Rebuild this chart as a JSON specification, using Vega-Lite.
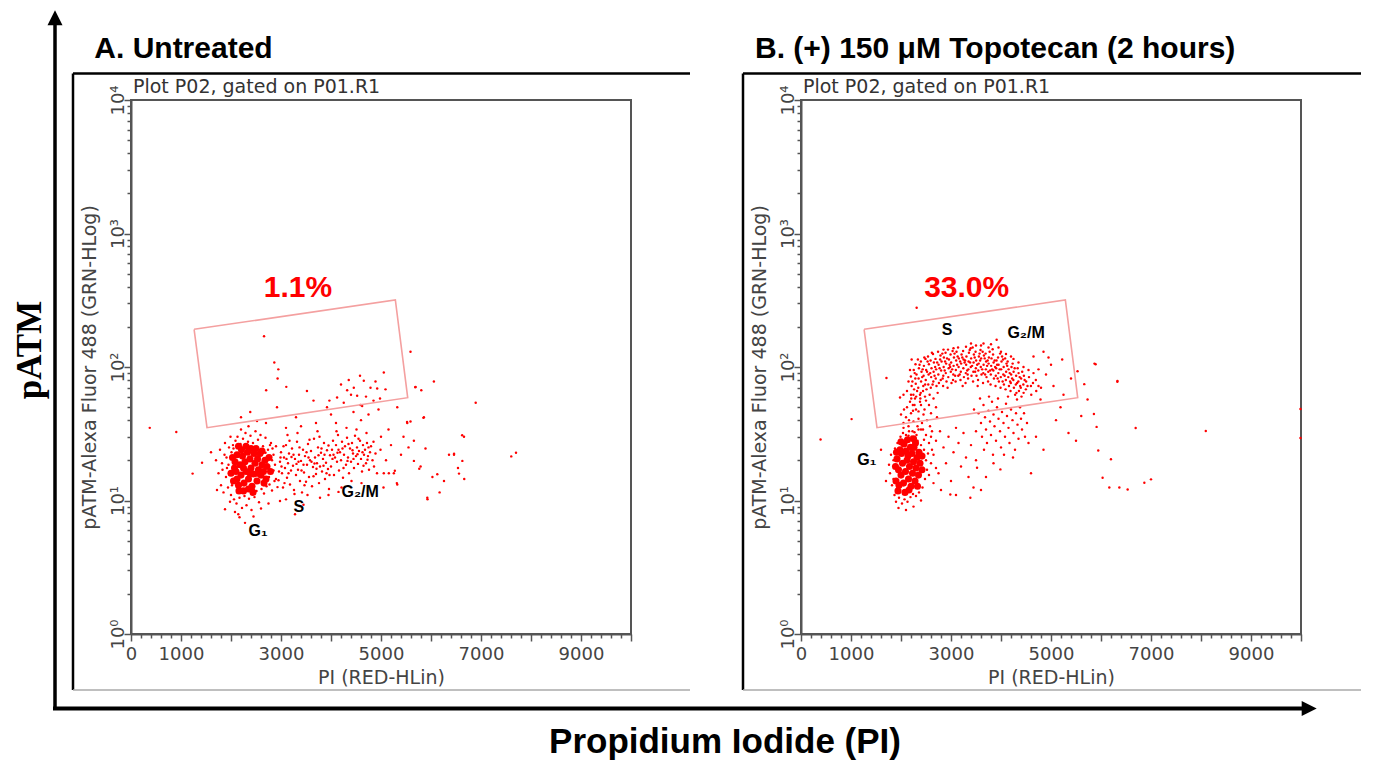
{
"$schema": "https://vega.github.io/schema/vega-lite/v6.json",
"background": "white",
"padding": {"left": 12, "top": 9, "right": 5, "bottom": 0},
"config": {"view": {"stroke": "#555", "strokeWidth": 2}, "font": "DejaVu Sans"},
"spacing": 170,
"bounds": "flush",
"datasets": {
"gate": [{"x":1262,"y":191.6,"o":1},{"x":5287,"y":317.6,"o":2},{"x":5534,"y":58.9,"o":3},{"x":1520,"y":35.1,"o":4},{"x":1262,"y":191.6,"o":5}],
"a_lab": [{"x":2350,"y":5.375,"t":"G₁"},{"x":3248,"y":8.2,"t":"S"},{"x":4210,"y":10.62,"t":"G₂/M"}],
"b_lab": [{"x":1126,"y":18.45,"t":"G₁"},{"x":2814,"y":173.7,"t":"S"},{"x":4128,"y":163.5,"t":"G₂/M"}],
"a_core": [{"x":2050,"y":14},{"x":2100,"y":16.5},{"x":2080,"y":19.5},{"x":2150,"y":13},{"x":2200,"y":15.5},{"x":2180,"y":18.5},{"x":2230,"y":21.5},{"x":2120,"y":22},{"x":2260,"y":13.5},{"x":2300,"y":16.5},{"x":2280,"y":19.5},{"x":2330,"y":23},{"x":2350,"y":14.5},{"x":2400,"y":17.5},{"x":2380,"y":20.5},{"x":2420,"y":12.8},{"x":2450,"y":15.8},{"x":2480,"y":19},{"x":2460,"y":22.5},{"x":2520,"y":14},{"x":2550,"y":17},{"x":2530,"y":20.5},{"x":2600,"y":15.5},{"x":2620,"y":18.5},{"x":2580,"y":22.5},{"x":2650,"y":16.5},{"x":2680,"y":20},{"x":2700,"y":14.5},{"x":2720,"y":18},{"x":2160,"y":11.8},{"x":2250,"y":11.8},{"x":2350,"y":12.2},{"x":2070,"y":17.5},{"x":2210,"y":24},{"x":2400,"y":24.5},{"x":2500,"y":24.5},{"x":2760,"y":21},{"x":2790,"y":16.5},{"x":2030,"y":21},{"x":2300,"y":25.5},{"x":2150,"y":25.5},{"x":2620,"y":23.5},{"x":2440,"y":11.5},{"x":2120,"y":14.5},{"x":2250,"y":17.5},{"x":2380,"y":16},{"x":2530,"y":16},{"x":2660,"y":13.5},{"x":2000,"y":16}],
"a_pts": [{"x":1750,"y":16},{"x":1800,"y":13},{"x":1820,"y":19},{"x":1850,"y":11.5},{"x":1870,"y":22},{"x":1900,"y":15},{"x":1920,"y":17.5},{"x":1940,"y":12.5},{"x":1960,"y":25},{"x":1980,"y":9.8},{"x":2000,"y":11},{"x":2010,"y":23},{"x":2040,"y":26},{"x":2060,"y":10.2},{"x":2090,"y":28},{"x":2110,"y":9.5},{"x":2130,"y":30},{"x":2170,"y":10.5},{"x":2190,"y":26.5},{"x":2220,"y":8.8},{"x":2240,"y":29},{"x":2270,"y":10.8},{"x":2290,"y":32},{"x":2310,"y":9.2},{"x":2340,"y":27.5},{"x":2360,"y":10.3},{"x":2390,"y":30.5},{"x":2410,"y":8.5},{"x":2440,"y":27},{"x":2470,"y":10.6},{"x":2490,"y":33},{"x":2510,"y":11.8},{"x":2540,"y":28.5},{"x":2560,"y":9.7},{"x":2590,"y":31},{"x":2610,"y":12.2},{"x":2640,"y":25.5},{"x":2660,"y":11.3},{"x":2690,"y":29.5},{"x":2710,"y":12.8},{"x":2740,"y":24},{"x":2770,"y":13.2},{"x":2800,"y":27},{"x":2820,"y":11.9},{"x":2850,"y":22},{"x":2870,"y":14},{"x":2900,"y":25.5},{"x":2930,"y":12.6},{"x":1700,"y":20},{"x":1780,"y":24},{"x":1880,"y":27},{"x":1990,"y":30},{"x":2170,"y":7.5},{"x":2080,"y":8.2},{"x":2200,"y":34},{"x":2350,"y":36},{"x":1720,"y":12},{"x":1830,"y":17},{"x":1910,"y":21},{"x":2020,"y":13},{"x":2760,"y":15},{"x":2880,"y":18.5},{"x":2960,"y":16.5},{"x":2990,"y":21},{"x":1950,"y":18.5},{"x":2050,"y":24.5},{"x":2690,"y":22.8},{"x":2820,"y":20},{"x":2850,"y":16.8},{"x":2900,"y":14.5},{"x":2780,"y":26},{"x":2830,"y":24.5},
{"x":1880,"y":8.6},{"x":2146,"y":7.9},{"x":2280,"y":6.8},{"x":3280,"y":7.9},{"x":2980,"y":9.9},{"x":3780,"y":10.5},{"x":2600,"y":8.7},{"x":3100,"y":10.2},{"x":2450,"y":7.6},{"x":3450,"y":9.3},{"x":3950,"y":11},{"x":4150,"y":11.6},{"x":2750,"y":9.5},
{"x":2950,"y":14.2},{"x":2980,"y":19.5},{"x":3000,"y":23},{"x":3020,"y":16},{"x":3040,"y":12.5},{"x":3060,"y":21},{"x":3080,"y":17.5},{"x":3100,"y":26},{"x":3120,"y":14.8},{"x":3140,"y":19},{"x":3160,"y":22.5},{"x":3180,"y":13.2},{"x":3200,"y":16.8},{"x":3220,"y":24.5},{"x":3240,"y":18.2},{"x":3260,"y":12},{"x":3280,"y":20.5},{"x":3300,"y":15.5},{"x":3320,"y":27.5},{"x":3340,"y":17},{"x":3360,"y":22},{"x":3380,"y":14},{"x":3400,"y":19.8},{"x":3420,"y":11.5},{"x":3440,"y":24},{"x":3460,"y":16.2},{"x":3480,"y":21.5},{"x":3500,"y":13.8},{"x":3520,"y":18.5},{"x":3540,"y":26.5},{"x":3560,"y":15},{"x":3580,"y":20},{"x":3600,"y":23.5},{"x":3620,"y":12.8},{"x":3640,"y":17.8},{"x":3660,"y":29},{"x":3680,"y":21},{"x":3700,"y":15.8},{"x":3720,"y":19},{"x":3740,"y":25},{"x":3760,"y":13.5},{"x":3780,"y":18},{"x":3800,"y":22.8},{"x":3820,"y":16.5},{"x":3840,"y":20.5},{"x":3860,"y":27},{"x":3880,"y":14.5},{"x":3900,"y":19.2},{"x":3920,"y":23.8},{"x":3940,"y":17.2},{"x":3960,"y":12.2},{"x":3980,"y":21.8},{"x":3010,"y":18},{"x":3110,"y":20.5},{"x":3210,"y":21.2},{"x":3310,"y":18.8},{"x":3410,"y":16.8},{"x":3510,"y":23},{"x":3610,"y":19.5},{"x":3710,"y":17.3},{"x":3810,"y":24.5},{"x":3910,"y":16},{"x":3050,"y":25.5},{"x":3150,"y":16},{"x":3250,"y":22},{"x":3350,"y":19.5},{"x":3450,"y":18.5},{"x":3550,"y":21},{"x":3650,"y":15.2},{"x":3750,"y":21.8},{"x":3850,"y":18.2},{"x":3950,"y":25.8},{"x":3070,"y":13.5},{"x":3170,"y":28},{"x":3270,"y":11.2},{"x":3370,"y":25},{"x":3470,"y":13},{"x":3570,"y":28.5},{"x":3670,"y":18.9},{"x":3770,"y":30},{"x":3870,"y":22},{"x":3970,"y":15.5},{"x":3130,"y":31},{"x":3330,"y":32},{"x":3530,"y":11},{"x":3730,"y":33},
{"x":4000,"y":18},{"x":4020,"y":24},{"x":4040,"y":28},{"x":4060,"y":15.5},{"x":4080,"y":21},{"x":4100,"y":26},{"x":4120,"y":19.5},{"x":4140,"y":31},{"x":4160,"y":16.8},{"x":4180,"y":23},{"x":4200,"y":20},{"x":4220,"y":27.5},{"x":4240,"y":14.8},{"x":4260,"y":22},{"x":4280,"y":25.5},{"x":4300,"y":18.5},{"x":4320,"y":29.5},{"x":4340,"y":21},{"x":4360,"y":16},{"x":4380,"y":24.5},{"x":4400,"y":19.5},{"x":4420,"y":27},{"x":4440,"y":22.5},{"x":4460,"y":17.5},{"x":4480,"y":30.5},{"x":4500,"y":21.5},{"x":4520,"y":25},{"x":4540,"y":18.8},{"x":4560,"y":23.5},{"x":4580,"y":28},{"x":4600,"y":20.5},{"x":4620,"y":16.5},{"x":4640,"y":26},{"x":4660,"y":22},{"x":4680,"y":24},{"x":4700,"y":19},{"x":4720,"y":27},{"x":4740,"y":21.5},{"x":4760,"y":17},{"x":4780,"y":23},{"x":4800,"y":25.5},{"x":4830,"y":20},{"x":4860,"y":18},{"x":4890,"y":22.5},{"x":4920,"y":16},{"x":4050,"y":22},{"x":4150,"y":24},{"x":4250,"y":17.5},{"x":4350,"y":26.5},{"x":4450,"y":20.5},{"x":4550,"y":29},{"x":4650,"y":18.2},{"x":4750,"y":25},{"x":4850,"y":27.5},{"x":4110,"y":33},{"x":4310,"y":35},{"x":4510,"y":34},{"x":4710,"y":32},{"x":4410,"y":14},{"x":4610,"y":13.5},{"x":4210,"y":12.5},{"x":4030,"y":20.5},{"x":4130,"y":22.8},{"x":4230,"y":24.5},{"x":4330,"y":19.8},{"x":4430,"y":23.8},{"x":4530,"y":22.2},{"x":4630,"y":23},{"x":4730,"y":20.2},
{"x":2661,"y":170},{"x":2866,"y":108},{"x":2946,"y":96},{"x":2932,"y":82},{"x":2703,"y":67},{"x":3106,"y":71},{"x":3519,"y":66},{"x":3968,"y":56},{"x":2920,"y":50},{"x":3650,"y":56},{"x":3920,"y":50},{"x":5056,"y":91},{"x":5590,"y":130},{"x":4355,"y":80},{"x":4656,"y":79},{"x":4890,"y":78},{"x":4323,"y":67},{"x":4456,"y":70},{"x":4790,"y":70},{"x":4924,"y":69},{"x":5090,"y":68},{"x":4523,"y":61},{"x":4623,"y":51},{"x":4255,"y":54},{"x":4590,"y":52},{"x":4122,"y":59},{"x":2385,"y":46},{"x":2520,"y":39.4},{"x":3300,"y":42},{"x":3700,"y":38},{"x":4000,"y":44},{"x":4450,"y":46},{"x":4750,"y":44},{"x":4850,"y":56},{"x":4400,"y":62},{"x":4700,"y":60},{"x":4200,"y":74},{"x":4580,"y":86},{"x":4980,"y":58},{"x":3400,"y":36},{"x":2700,"y":38},{"x":3100,"y":35},{"x":4100,"y":38},{"x":4600,"y":40},{"x":2200,"y":42},{"x":4950,"y":48},
{"x":5691,"y":71},{"x":5806,"y":67},{"x":6058,"y":78},{"x":6894,"y":54},{"x":5325,"y":50},{"x":5858,"y":42},{"x":5525,"y":38},{"x":6660,"y":30},{"x":6460,"y":22},{"x":6627,"y":19.8},{"x":6560,"y":15.9},{"x":6126,"y":15.7},{"x":5926,"y":10.5},{"x":6260,"y":14},{"x":5658,"y":19.8},{"x":5792,"y":18},{"x":5257,"y":16},{"x":5157,"y":16},{"x":5056,"y":16},{"x":5325,"y":13.2},{"x":4990,"y":24},{"x":5590,"y":39},{"x":5658,"y":28},{"x":7605,"y":21.4},{"x":7700,"y":22.8},{"x":6623,"y":30.8},{"x":6461,"y":22.4},{"x":6360,"y":22},{"x":6540,"y":17.5},{"x":6665,"y":14.5},{"x":6172,"y":11.5},{"x":5930,"y":10.2},{"x":6028,"y":15},{"x":5765,"y":17.3},{"x":5890,"y":24.5},{"x":5848,"y":41.6},{"x":5686,"y":70.5},{"x":5521,"y":38.7},{"x":5317,"y":13.5},{"x":5277,"y":16.7},{"x":5100,"y":20},{"x":5200,"y":26},{"x":5400,"y":22},{"x":5000,"y":30},{"x":5150,"y":34},{"x":5450,"y":30},{"x":5050,"y":12.5},{"x":5550,"y":25},
{"x":375,"y":35},{"x":906,"y":32.6},{"x":1232,"y":15.9},{"x":1421,"y":19.2},{"x":1600,"y":23}],
"b_core": [{"x":1900,"y":14},{"x":1950,"y":17},{"x":1920,"y":20.5},{"x":1980,"y":24},{"x":1960,"y":13},{"x":2000,"y":15.5},{"x":2030,"y":19},{"x":2010,"y":22.5},{"x":2060,"y":26.5},{"x":2050,"y":13.5},{"x":2090,"y":16.5},{"x":2120,"y":20},{"x":2100,"y":23.5},{"x":2150,"y":14.5},{"x":2170,"y":18},{"x":2140,"y":21.5},{"x":2190,"y":25},{"x":2200,"y":12.8},{"x":2230,"y":16},{"x":2250,"y":19.5},{"x":2220,"y":22.5},{"x":2280,"y":14},{"x":2300,"y":17.5},{"x":2320,"y":21},{"x":2290,"y":27},{"x":2350,"y":15.5},{"x":2380,"y":19},{"x":2360,"y":23},{"x":2420,"y":17},{"x":1940,"y":11.8},{"x":2080,"y":11.5},{"x":2160,"y":12},{"x":1890,"y":18},{"x":2420,"y":21.5},{"x":2130,"y":28.5},{"x":2250,"y":29},{"x":2000,"y":27.5},{"x":2330,"y":12.8},{"x":1910,"y":23},{"x":2260,"y":25}],
"b_pts": [{"x":1780,"y":16},{"x":1820,"y":13},{"x":1850,"y":20},{"x":1870,"y":11},{"x":1880,"y":24.5},{"x":1900,"y":9.8},{"x":1930,"y":27},{"x":1960,"y":10.5},{"x":1990,"y":30},{"x":2020,"y":9.5},{"x":2040,"y":32},{"x":2070,"y":10.2},{"x":2100,"y":31},{"x":2130,"y":9.8},{"x":2160,"y":33},{"x":2190,"y":10.6},{"x":2210,"y":30},{"x":2240,"y":11.2},{"x":2270,"y":32.5},{"x":2300,"y":10.8},{"x":2330,"y":28},{"x":2360,"y":11.5},{"x":2400,"y":26},{"x":2430,"y":12.5},{"x":2460,"y":24},{"x":2480,"y":14.5},{"x":2500,"y":20},{"x":2520,"y":17},{"x":2540,"y":22.5},{"x":2560,"y":15.5},{"x":2600,"y":19},{"x":2620,"y":24},{"x":2650,"y":13.5},{"x":2700,"y":17.5},{"x":1800,"y":22},{"x":1760,"y":18.5},{"x":1950,"y":8.8},{"x":2100,"y":8.5},{"x":2250,"y":9},{"x":2400,"y":10},{"x":2050,"y":35},{"x":2350,"y":34},{"x":1850,"y":14.5},{"x":2460,"y":28.5},{"x":2560,"y":27},
{"x":2050,"y":38},{"x":2100,"y":42},{"x":2150,"y":36},{"x":2200,"y":45},{"x":2250,"y":39},{"x":2300,"y":48},{"x":2350,"y":41},{"x":2400,"y":52},{"x":2450,"y":44},{"x":2500,"y":56},{"x":2120,"y":50},{"x":2180,"y":55},{"x":2230,"y":33},{"x":2280,"y":58},{"x":2330,"y":36},{"x":2380,"y":62},{"x":2420,"y":38},{"x":2470,"y":48},{"x":2520,"y":40},{"x":2560,"y":52},{"x":2600,"y":45},{"x":2650,"y":58},{"x":2700,"y":50},{"x":2150,"y":30.5},{"x":2310,"y":31},{"x":2440,"y":34},{"x":2580,"y":36},{"x":2000,"y":44},{"x":2060,"y":48},{"x":2200,"y":62},{"x":2270,"y":52},{"x":2350,"y":46.5},{"x":2400,"y":34},{"x":2500,"y":31},{"x":2620,"y":33},{"x":2720,"y":42},{"x":2160,"y":40},{"x":2240,"y":47},{"x":2380,"y":55},{"x":2480,"y":60},
{"x":2205,"y":58},{"x":2212,"y":72},{"x":2198,"y":85},{"x":2248,"y":62},{"x":2255,"y":95},{"x":2262,"y":68},{"x":2295,"y":75},{"x":2303,"y":60},{"x":2310,"y":88},{"x":2290,"y":105},{"x":2345,"y":70},{"x":2352,"y":82},{"x":2358,"y":98},{"x":2395,"y":64},{"x":2402,"y":78},{"x":2410,"y":92},{"x":2398,"y":110},{"x":2446,"y":72},{"x":2452,"y":86},{"x":2458,"y":102},{"x":2441,"y":66},{"x":2495,"y":80},{"x":2503,"y":95},{"x":2510,"y":68},{"x":2490,"y":115},{"x":2545,"y":74},{"x":2552,"y":88},{"x":2558,"y":105},{"x":2540,"y":120},{"x":2596,"y":70},{"x":2603,"y":84},{"x":2610,"y":98},{"x":2592,"y":112},{"x":2646,"y":78},{"x":2652,"y":92},{"x":2658,"y":108},{"x":2640,"y":125},{"x":2695,"y":82},{"x":2703,"y":96},{"x":2710,"y":72},{"x":2690,"y":115},{"x":2747,"y":88},{"x":2752,"y":104},{"x":2758,"y":76},{"x":2741,"y":130},{"x":2795,"y":80},{"x":2803,"y":94},{"x":2811,"y":110},{"x":2790,"y":122},{"x":2846,"y":86},{"x":2853,"y":100},{"x":2858,"y":118},{"x":2842,"y":72},{"x":2896,"y":90},{"x":2903,"y":106},{"x":2910,"y":78},{"x":2891,"y":128},{"x":2946,"y":84},{"x":2953,"y":98},{"x":2959,"y":114},{"x":2940,"y":135},{"x":2996,"y":92},{"x":3003,"y":108},{"x":3010,"y":76},{"x":2991,"y":124},{"x":3046,"y":88},{"x":3052,"y":102},{"x":3059,"y":118},{"x":3041,"y":80},{"x":3097,"y":95},{"x":3103,"y":112},{"x":3110,"y":130},{"x":3092,"y":78},{"x":3146,"y":86},{"x":3152,"y":100},{"x":3158,"y":116},{"x":3141,"y":140},{"x":3196,"y":92},{"x":3203,"y":106},{"x":3211,"y":124},{"x":3190,"y":80},{"x":3247,"y":98},{"x":3252,"y":114},{"x":3258,"y":84},{"x":3242,"y":132},{"x":3296,"y":90},{"x":3303,"y":104},{"x":3309,"y":120},{"x":3291,"y":76},{"x":3347,"y":96},{"x":3352,"y":110},{"x":3359,"y":128},{"x":3341,"y":82},{"x":3396,"y":100},{"x":3403,"y":116},{"x":3410,"y":86},{"x":3392,"y":138},{"x":3447,"y":92},{"x":3452,"y":108},{"x":3458,"y":124},{"x":3441,"y":78},{"x":3497,"y":98},{"x":3503,"y":112},{"x":3510,"y":86},{"x":3491,"y":130},{"x":3546,"y":94},{"x":3553,"y":106},{"x":3558,"y":120},{"x":3541,"y":80},{"x":3596,"y":100},{"x":3603,"y":116},{"x":3610,"y":88},{"x":3590,"y":134},{"x":3646,"y":90},{"x":3652,"y":104},{"x":3659,"y":122},{"x":3641,"y":76},{"x":3697,"y":96},{"x":3703,"y":110},{"x":3710,"y":84},{"x":3692,"y":126},{"x":3746,"y":92},{"x":3752,"y":106},{"x":3758,"y":118},{"x":3741,"y":78},{"x":3796,"y":88},{"x":3803,"y":102},{"x":3810,"y":116},{"x":3791,"y":74},{"x":3847,"y":94},{"x":3852,"y":108},{"x":3859,"y":82},{"x":3841,"y":124},{"x":3896,"y":86},{"x":3903,"y":98},{"x":3910,"y":112},{"x":3891,"y":72},{"x":3947,"y":90},{"x":3952,"y":104},{"x":3958,"y":78},{"x":3941,"y":118},{"x":3996,"y":84},{"x":4003,"y":96},{"x":4010,"y":110},{"x":3991,"y":70},{"x":4046,"y":88},{"x":4053,"y":100},{"x":4058,"y":74},{"x":4041,"y":114},{"x":4097,"y":80},{"x":4103,"y":92},{"x":4110,"y":106},{"x":4091,"y":68},{"x":4146,"y":84},{"x":4152,"y":96},{"x":4159,"y":72},{"x":4196,"y":76},{"x":4203,"y":88},{"x":4210,"y":100},{"x":4191,"y":66},{"x":4247,"y":80},{"x":4252,"y":92},{"x":4258,"y":70},{"x":4296,"y":74},{"x":4303,"y":86},{"x":4309,"y":64},{"x":4347,"y":78},{"x":4352,"y":90},{"x":4359,"y":66},{"x":4396,"y":70},{"x":4403,"y":82},{"x":4410,"y":60},{"x":4447,"y":74},{"x":4452,"y":64},{"x":4458,"y":86},{"x":4497,"y":68},{"x":4503,"y":78},{"x":4598,"y":72},{"x":4605,"y":62},{"x":4697,"y":80},{"x":4705,"y":66},{"x":4800,"y":70},
{"x":2228,"y":78},{"x":2274,"y":90},{"x":2322,"y":66},{"x":2371,"y":104},{"x":2424,"y":84},{"x":2467,"y":118},{"x":2521,"y":92},{"x":2573,"y":62},{"x":2618,"y":128},{"x":2671,"y":86},{"x":2724,"y":108},{"x":2772,"y":98},{"x":2827,"y":126},{"x":2874,"y":94},{"x":2921,"y":116},{"x":2972,"y":104},{"x":3024,"y":96},{"x":3071,"y":126},{"x":3123,"y":104},{"x":3174,"y":88},{"x":3226,"y":118},{"x":3272,"y":108},{"x":3324,"y":94},{"x":3374,"y":134},{"x":3422,"y":102},{"x":3474,"y":118},{"x":3523,"y":104},{"x":3572,"y":126},{"x":3624,"y":96},{"x":3674,"y":116},{"x":3722,"y":102},{"x":3773,"y":130},{"x":3824,"y":96},{"x":3873,"y":112},{"x":3922,"y":104},{"x":3974,"y":96},{"x":4022,"y":120},{"x":4073,"y":86},{"x":4124,"y":102},{"x":4174,"y":90},{"x":4223,"y":82},{"x":4274,"y":98},{"x":4322,"y":76},{"x":4374,"y":84},{"x":4424,"y":92},{"x":4473,"y":80},{"x":4530,"y":72},{"x":4560,"y":84},{"x":4640,"y":76},{"x":4750,"y":72},{"x":2237,"y":52},{"x":2286,"y":82},{"x":2338,"y":114},{"x":2387,"y":58},{"x":2434,"y":96},{"x":2483,"y":74},{"x":2532,"y":110},{"x":2585,"y":90},{"x":2632,"y":74},{"x":2683,"y":100},{"x":2733,"y":64},{"x":2783,"y":114},{"x":2834,"y":82},{"x":2882,"y":110},{"x":2932,"y":70},{"x":2983,"y":100},{"x":3032,"y":132},{"x":3083,"y":86},{"x":3133,"y":120},{"x":3183,"y":110},{"x":3233,"y":72},{"x":3283,"y":112},{"x":3333,"y":88},{"x":3383,"y":108},{"x":3433,"y":140},{"x":3483,"y":92},{"x":3533,"y":72},{"x":3583,"y":112},{"x":3633,"y":130},{"x":3683,"y":88},{"x":3733,"y":112},{"x":3783,"y":94},{"x":3833,"y":136},{"x":3883,"y":100},{"x":3933,"y":82},{"x":3983,"y":126},{"x":4033,"y":78},{"x":4083,"y":116},{"x":4133,"y":110},{"x":4183,"y":78},{"x":4233,"y":106},{"x":4283,"y":62},{"x":4333,"y":98},{"x":4383,"y":72},
{"x":3500,"y":145},{"x":3650,"y":150},{"x":3800,"y":148},{"x":3913,"y":160},{"x":3750,"y":140},{"x":3300,"y":142},{"x":3050,"y":138},{"x":2850,"y":135},{"x":4000,"y":130},{"x":4100,"y":125},{"x":4250,"y":115},{"x":4350,"y":108},{"x":4450,"y":100},{"x":4550,"y":95},{"x":4650,"y":90},{"x":3400,"y":150},{"x":3600,"y":145},{"x":3950,"y":140},{"x":4200,"y":120},{"x":2213,"y":114},{"x":2180,"y":95},{"x":2150,"y":78},{"x":2120,"y":66},{"x":1980,"y":59},{"x":2050,"y":62},
{"x":3550,"y":45},{"x":3600,"y":38},{"x":3620,"y":30},{"x":3650,"y":52},{"x":3680,"y":42},{"x":3700,"y":34},{"x":3720,"y":27},{"x":3750,"y":47},{"x":3780,"y":39},{"x":3800,"y":31},{"x":3820,"y":55},{"x":3850,"y":44},{"x":3870,"y":36},{"x":3900,"y":28},{"x":3920,"y":50},{"x":3950,"y":41},{"x":3980,"y":33},{"x":4000,"y":25},{"x":4020,"y":46},{"x":4050,"y":38},{"x":4080,"y":30},{"x":4100,"y":53},{"x":4120,"y":43},{"x":4150,"y":35},{"x":4170,"y":27},{"x":4200,"y":48},{"x":4230,"y":40},{"x":4250,"y":32},{"x":4280,"y":24},{"x":4300,"y":45},{"x":4330,"y":37},{"x":4350,"y":29},{"x":4380,"y":50},{"x":4400,"y":41},{"x":4420,"y":34},{"x":3580,"y":58},{"x":3760,"y":60},{"x":3940,"y":58},{"x":4140,"y":60},{"x":4320,"y":57},{"x":3660,"y":24},{"x":3840,"y":22},{"x":4060,"y":22},{"x":4240,"y":21},{"x":4460,"y":45},{"x":4480,"y":30},{"x":3500,"y":33},{"x":3460,"y":48},{"x":4520,"y":38},{"x":4550,"y":27},
{"x":2650,"y":22},{"x":2700,"y":28},{"x":2750,"y":16},{"x":2800,"y":12},{"x":2850,"y":25},{"x":2900,"y":19},{"x":2950,"y":30},{"x":3000,"y":14},{"x":3050,"y":23},{"x":3100,"y":11},{"x":3150,"y":27},{"x":3200,"y":18},{"x":3250,"y":32},{"x":3300,"y":21},{"x":3350,"y":15},{"x":3400,"y":26},{"x":3450,"y":12.5},{"x":3500,"y":20},{"x":2986,"y":11.1},{"x":3387,"y":10.5},{"x":3988,"y":17.1},{"x":3521,"y":17.6},{"x":3700,"y":15},{"x":3850,"y":19},{"x":3100,"y":35},{"x":2780,"y":33},{"x":2600,"y":30},{"x":3600,"y":12},
{"x":5224,"y":114},{"x":5892,"y":105},{"x":6327,"y":77.5},{"x":5665,"y":74.4},{"x":5531,"y":93},{"x":5731,"y":57},{"x":5605,"y":43},{"x":5858,"y":44.4},{"x":6199,"y":20.4},{"x":6032,"y":14.8},{"x":6166,"y":12.5},{"x":6367,"y":12.5},{"x":6533,"y":12.1},{"x":6867,"y":13.6},{"x":7000,"y":14.4},{"x":5945,"y":23.7},{"x":5912,"y":35.6},{"x":5190,"y":50},{"x":4790,"y":57},{"x":9990,"y":48.5},{"x":9990,"y":29.4},{"x":6693,"y":34.9},{"x":8096,"y":33.2},{"x":6329,"y":78.5},{"x":5870,"y":106},{"x":4900,"y":88},{"x":5050,"y":72},{"x":4950,"y":118},{"x":5100,"y":40},{"x":4700,"y":30},{"x":4850,"y":24},{"x":5350,"y":32},{"x":5250,"y":62},{"x":4600,"y":16},{"x":5400,"y":82},{"x":5500,"y":28},{"x":5000,"y":104},{"x":4750,"y":96},{"x":4650,"y":120},{"x":4850,"y":130},
{"x":391,"y":28.6},{"x":1012,"y":40.7},{"x":1709,"y":82.8},{"x":2313,"y":278},{"x":1600,"y":24},{"x":1700,"y":14}]
},
"hconcat": [
{
"width": 500, "height": 534,
"resolve": {"axis": {"x": "independent", "y": "independent"}},
"layer": [
{"data": {"name": "a_pts"}, "mark": {"type": "circle", "size": 6, "color": "#ff0000", "opacity": 1},
 "encoding": {
  "x": {"field": "x", "type": "quantitative", "scale": {"domain": [0, 10000], "nice": false, "zero": false},
   "axis": {"orient": "bottom", "title": "PI (RED-HLin)", "values": [0,1000,2000,3000,4000,5000,6000,7000,8000,9000,10000],
    "tickSize": 7,
    "labelExpr": "(datum.value === 0 || datum.value % 2000 === 1000) ? format(datum.value, 'd') : ''",
    "labelOverlap": false, "labelFlush": false, "labelFont": "DejaVu Sans", "labelFontSize": 18, "labelColor": "#444", "labelPadding": 4,
    "tickColor": "#555", "tickWidth": 1.5, "domainColor": "#555", "domainWidth": 2, "grid": false,
    "titleFont": "DejaVu Sans", "titleFontSize": 19, "titleFontWeight": "normal", "titleColor": "#444", "titleY": 49.5, "titleBaseline": "alphabetic"}},
  "y": {"field": "y", "type": "quantitative", "scale": {"type": "log", "domain": [1, 10000], "nice": false},
   "axis": {"orient": "left", "title": "pATM-Alexa Fluor 488 (GRN-HLog)", "values": [1,10,100,1000,10000],
    "tickSize": 7,
    "labelExpr": "'10' + ['⁰','¹','²','³','⁴'][round(log(datum.value)/LN10)]",
    "labelAngle": 270, "labelAlign": "center", "labelBaseline": "alphabetic", "labelOverlap": false, "labelFlush": false,
    "labelFont": "DejaVu Sans", "labelFontSize": 18, "labelColor": "#444", "labelPadding": 1,
    "tickColor": "#555", "tickWidth": 1.5, "domainColor": "#555", "domainWidth": 2, "grid": false,
    "titleFont": "DejaVu Sans", "titleFontSize": 19, "titleFontWeight": "normal", "titleColor": "#444", "titleAngle": 270, "titleX": -36, "titleY": 267, "titleAlign": "center", "titleBaseline": "alphabetic"}}
 }},
{"data": {"name": "a_core"}, "mark": {"type": "circle", "size": 50, "color": "#ff0000", "opacity": 1},
 "encoding": {"x": {"field": "x", "type": "quantitative", "scale": {"domain": [0, 10000], "nice": false, "zero": false},
   "axis": {"orient": "bottom", "title": null, "labels": false, "domain": false, "grid": false, "tickSize": 4, "tickColor": "#555", "tickWidth": 1.5,
    "values": [200,400,600,800,1200,1400,1600,1800,2200,2400,2600,2800,3200,3400,3600,3800,4200,4400,4600,4800,5200,5400,5600,5800,6200,6400,6600,6800,7200,7400,7600,7800,8200,8400,8600,8800,9200,9400,9600,9800]}},
  "y": {"field": "y", "type": "quantitative", "scale": {"type": "log", "domain": [1, 10000], "nice": false},
   "axis": {"orient": "left", "title": null, "labels": false, "domain": false, "grid": false, "tickSize": 4, "tickColor": "#555", "tickWidth": 1.5,
    "values": [2,3,4,5,6,7,8,9,20,30,40,50,60,70,80,90,200,300,400,500,600,700,800,900,2000,3000,4000,5000,6000,7000,8000,9000]}}}},
{"data": {"name": "gate"}, "mark": {"type": "line", "color": "#f4a0a0", "strokeWidth": 1.6},
 "encoding": {"x": {"field": "x", "type": "quantitative", "scale": {"domain": [0, 10000], "nice": false, "zero": false}, "axis": null},
  "y": {"field": "y", "type": "quantitative", "scale": {"type": "log", "domain": [1, 10000], "nice": false}, "axis": null},
  "order": {"field": "o", "type": "quantitative"}}},
{"data": {"name": "a_lab"}, "mark": {"type": "text", "align": "left", "baseline": "alphabetic", "font": "Liberation Sans", "fontWeight": "bold", "fontSize": 16, "color": "#000"},
 "encoding": {"x": {"field": "x", "type": "quantitative", "scale": {"domain": [0, 10000], "nice": false, "zero": false}, "axis": null},
  "y": {"field": "y", "type": "quantitative", "scale": {"type": "log", "domain": [1, 10000], "nice": false}, "axis": null},
  "text": {"field": "t"}}},
{"data": {"values": [{}]}, "mark": {"type": "text", "text": "Plot P02, gated on P01.R1", "align": "left", "baseline": "alphabetic", "font": "DejaVu Sans", "fontSize": 19, "color": "#333", "clip": false},
 "encoding": {"x": {"datum": 40, "type": "quantitative", "scale": {"domain": [0, 10000], "nice": false, "zero": false}, "axis": null},
  "y": {"datum": 11225, "type": "quantitative", "scale": {"type": "log", "domain": [1, 10000], "nice": false}, "axis": null}}},
{"data": {"values": [{}]}, "mark": {"type": "text", "text": "1.1%", "align": "center", "baseline": "alphabetic", "font": "Liberation Sans", "fontWeight": "bold", "fontSize": 30, "color": "#ff0000", "clip": false},
 "encoding": {"x": {"datum": 3340, "type": "quantitative", "scale": {"domain": [0, 10000], "nice": false, "zero": false}, "axis": null},
  "y": {"datum": 334, "type": "quantitative", "scale": {"type": "log", "domain": [1, 10000], "nice": false}, "axis": null}}},
{"data": {"values": [{}]}, "mark": {"type": "text", "text": "A. Untreated", "align": "left", "baseline": "alphabetic", "font": "Liberation Sans", "fontWeight": "bold", "fontSize": 30, "color": "#000", "clip": false},
 "encoding": {"x": {"datum": -734, "type": "quantitative", "scale": {"domain": [0, 10000], "nice": false, "zero": false}, "axis": null},
  "y": {"datum": 20740, "type": "quantitative", "scale": {"type": "log", "domain": [1, 10000], "nice": false}, "axis": null}}},
{"data": {"values": [{}]}, "mark": {"type": "rule", "color": "#000", "strokeWidth": 2.5, "clip": false},
 "encoding": {"x": {"datum": -1160, "type": "quantitative", "scale": {"domain": [0, 10000], "nice": false, "zero": false}, "axis": null}, "x2": {"datum": 11180},
  "y": {"datum": 15795, "type": "quantitative", "scale": {"type": "log", "domain": [1, 10000], "nice": false}, "axis": null}}},
{"data": {"values": [{}]}, "mark": {"type": "rule", "color": "#000", "strokeWidth": 2.5, "clip": false},
 "encoding": {"x": {"datum": -1160, "type": "quantitative", "scale": {"domain": [0, 10000], "nice": false, "zero": false}, "axis": null},
  "y": {"datum": 15795, "type": "quantitative", "scale": {"type": "log", "domain": [1, 10000], "nice": false}, "axis": null}, "y2": {"datum": 0.3806}}},
{"data": {"values": [{}]}, "mark": {"type": "rule", "color": "#aaa", "strokeWidth": 1.5, "clip": false},
 "encoding": {"x": {"datum": -1160, "type": "quantitative", "scale": {"domain": [0, 10000], "nice": false, "zero": false}, "axis": null}, "x2": {"datum": 11180},
  "y": {"datum": 0.3806, "type": "quantitative", "scale": {"type": "log", "domain": [1, 10000], "nice": false}, "axis": null}}},
{"data": {"values": [{}]}, "mark": {"type": "rule", "color": "#000", "strokeWidth": 3.5, "clip": false},
 "encoding": {"x": {"datum": -1520, "type": "quantitative", "scale": {"domain": [0, 10000], "nice": false, "zero": false}, "axis": null},
  "y": {"datum": 0.2767, "type": "quantitative", "scale": {"type": "log", "domain": [1, 10000], "nice": false}, "axis": null}, "y2": {"datum": 36470}}},
{"data": {"values": [{}]}, "mark": {"type": "point", "shape": "M0,-1L1,1L-1,1Z", "size": 225, "filled": true, "color": "#000", "opacity": 1, "strokeWidth": 0, "clip": false},
 "encoding": {"x": {"datum": -1520, "type": "quantitative", "scale": {"domain": [0, 10000], "nice": false, "zero": false}, "axis": null},
  "y": {"datum": 41300, "type": "quantitative", "scale": {"type": "log", "domain": [1, 10000], "nice": false}, "axis": null}}},
{"data": {"values": [{}]}, "mark": {"type": "rule", "color": "#000", "strokeWidth": 4, "clip": false},
 "encoding": {"x": {"datum": -1560, "type": "quantitative", "scale": {"domain": [0, 10000], "nice": false, "zero": false}, "axis": null}, "x2": {"datum": 23440},
  "y": {"datum": 0.2767, "type": "quantitative", "scale": {"type": "log", "domain": [1, 10000], "nice": false}, "axis": null}}},
{"data": {"values": [{}]}, "mark": {"type": "point", "shape": "M1,0L-1,-1L-1,1Z", "size": 225, "filled": true, "color": "#000", "opacity": 1, "strokeWidth": 0, "clip": false},
 "encoding": {"x": {"datum": 23564, "type": "quantitative", "scale": {"domain": [0, 10000], "nice": false, "zero": false}, "axis": null},
  "y": {"datum": 0.2767, "type": "quantitative", "scale": {"type": "log", "domain": [1, 10000], "nice": false}, "axis": null}}},
{"data": {"values": [{}]}, "mark": {"type": "text", "text": "pATM", "angle": 270, "align": "center", "baseline": "middle", "font": "Liberation Serif", "fontWeight": "bold", "fontSize": 35, "color": "#000", "clip": false},
 "encoding": {"x": {"datum": -2020, "type": "quantitative", "scale": {"domain": [0, 10000], "nice": false, "zero": false}, "axis": null},
  "y": {"datum": 134, "type": "quantitative", "scale": {"type": "log", "domain": [1, 10000], "nice": false}, "axis": null}}},
{"data": {"values": [{}]}, "mark": {"type": "text", "text": "Propidium Iodide (PI)", "align": "center", "baseline": "alphabetic", "font": "Liberation Sans", "fontWeight": "bold", "fontSize": 35, "color": "#000", "clip": false},
 "encoding": {"x": {"datum": 11880, "type": "quantitative", "scale": {"domain": [0, 10000], "nice": false, "zero": false}, "axis": null},
  "y": {"datum": 0.1284, "type": "quantitative", "scale": {"type": "log", "domain": [1, 10000], "nice": false}, "axis": null}}}
]
},
{
"width": 500, "height": 534,
"resolve": {"axis": {"x": "independent", "y": "independent"}},
"layer": [
{"data": {"name": "b_pts"}, "mark": {"type": "circle", "size": 6, "color": "#ff0000", "opacity": 1},
 "encoding": {
  "x": {"field": "x", "type": "quantitative", "scale": {"domain": [0, 10000], "nice": false, "zero": false},
   "axis": {"orient": "bottom", "title": "PI (RED-HLin)", "values": [0,1000,2000,3000,4000,5000,6000,7000,8000,9000,10000],
    "tickSize": 7,
    "labelExpr": "(datum.value === 0 || datum.value % 2000 === 1000) ? format(datum.value, 'd') : ''",
    "labelOverlap": false, "labelFlush": false, "labelFont": "DejaVu Sans", "labelFontSize": 18, "labelColor": "#444", "labelPadding": 4,
    "tickColor": "#555", "tickWidth": 1.5, "domainColor": "#555", "domainWidth": 2, "grid": false,
    "titleFont": "DejaVu Sans", "titleFontSize": 19, "titleFontWeight": "normal", "titleColor": "#444", "titleY": 49.5, "titleBaseline": "alphabetic"}},
  "y": {"field": "y", "type": "quantitative", "scale": {"type": "log", "domain": [1, 10000], "nice": false},
   "axis": {"orient": "left", "title": "pATM-Alexa Fluor 488 (GRN-HLog)", "values": [1,10,100,1000,10000],
    "tickSize": 7,
    "labelExpr": "'10' + ['⁰','¹','²','³','⁴'][round(log(datum.value)/LN10)]",
    "labelAngle": 270, "labelAlign": "center", "labelBaseline": "alphabetic", "labelOverlap": false, "labelFlush": false,
    "labelFont": "DejaVu Sans", "labelFontSize": 18, "labelColor": "#444", "labelPadding": 1,
    "tickColor": "#555", "tickWidth": 1.5, "domainColor": "#555", "domainWidth": 2, "grid": false,
    "titleFont": "DejaVu Sans", "titleFontSize": 19, "titleFontWeight": "normal", "titleColor": "#444", "titleAngle": 270, "titleX": -36, "titleY": 267, "titleAlign": "center", "titleBaseline": "alphabetic"}}
 }},
{"data": {"name": "b_core"}, "mark": {"type": "circle", "size": 50, "color": "#ff0000", "opacity": 1},
 "encoding": {"x": {"field": "x", "type": "quantitative", "scale": {"domain": [0, 10000], "nice": false, "zero": false},
   "axis": {"orient": "bottom", "title": null, "labels": false, "domain": false, "grid": false, "tickSize": 4, "tickColor": "#555", "tickWidth": 1.5,
    "values": [200,400,600,800,1200,1400,1600,1800,2200,2400,2600,2800,3200,3400,3600,3800,4200,4400,4600,4800,5200,5400,5600,5800,6200,6400,6600,6800,7200,7400,7600,7800,8200,8400,8600,8800,9200,9400,9600,9800]}},
  "y": {"field": "y", "type": "quantitative", "scale": {"type": "log", "domain": [1, 10000], "nice": false},
   "axis": {"orient": "left", "title": null, "labels": false, "domain": false, "grid": false, "tickSize": 4, "tickColor": "#555", "tickWidth": 1.5,
    "values": [2,3,4,5,6,7,8,9,20,30,40,50,60,70,80,90,200,300,400,500,600,700,800,900,2000,3000,4000,5000,6000,7000,8000,9000]}}}},
{"data": {"name": "gate"}, "mark": {"type": "line", "color": "#f4a0a0", "strokeWidth": 1.6},
 "encoding": {"x": {"field": "x", "type": "quantitative", "scale": {"domain": [0, 10000], "nice": false, "zero": false}, "axis": null},
  "y": {"field": "y", "type": "quantitative", "scale": {"type": "log", "domain": [1, 10000], "nice": false}, "axis": null},
  "order": {"field": "o", "type": "quantitative"}}},
{"data": {"name": "b_lab"}, "mark": {"type": "text", "align": "left", "baseline": "alphabetic", "font": "Liberation Sans", "fontWeight": "bold", "fontSize": 16, "color": "#000"},
 "encoding": {"x": {"field": "x", "type": "quantitative", "scale": {"domain": [0, 10000], "nice": false, "zero": false}, "axis": null},
  "y": {"field": "y", "type": "quantitative", "scale": {"type": "log", "domain": [1, 10000], "nice": false}, "axis": null},
  "text": {"field": "t"}}},
{"data": {"values": [{}]}, "mark": {"type": "text", "text": "Plot P02, gated on P01.R1", "align": "left", "baseline": "alphabetic", "font": "DejaVu Sans", "fontSize": 19, "color": "#333", "clip": false},
 "encoding": {"x": {"datum": 40, "type": "quantitative", "scale": {"domain": [0, 10000], "nice": false, "zero": false}, "axis": null},
  "y": {"datum": 11225, "type": "quantitative", "scale": {"type": "log", "domain": [1, 10000], "nice": false}, "axis": null}}},
{"data": {"values": [{}]}, "mark": {"type": "text", "text": "33.0%", "align": "center", "baseline": "alphabetic", "font": "Liberation Sans", "fontWeight": "bold", "fontSize": 30, "color": "#ff0000", "clip": false},
 "encoding": {"x": {"datum": 3314, "type": "quantitative", "scale": {"domain": [0, 10000], "nice": false, "zero": false}, "axis": null},
  "y": {"datum": 334, "type": "quantitative", "scale": {"type": "log", "domain": [1, 10000], "nice": false}, "axis": null}}},
{"data": {"values": [{}]}, "mark": {"type": "text", "text": "B. (+) 150 μM Topotecan (2 hours)", "align": "left", "baseline": "alphabetic", "font": "Liberation Sans", "fontWeight": "bold", "fontSize": 30, "color": "#000", "clip": false},
 "encoding": {"x": {"datum": -920, "type": "quantitative", "scale": {"domain": [0, 10000], "nice": false, "zero": false}, "axis": null},
  "y": {"datum": 20740, "type": "quantitative", "scale": {"type": "log", "domain": [1, 10000], "nice": false}, "axis": null}}},
{"data": {"values": [{}]}, "mark": {"type": "rule", "color": "#000", "strokeWidth": 2.5, "clip": false},
 "encoding": {"x": {"datum": -1160, "type": "quantitative", "scale": {"domain": [0, 10000], "nice": false, "zero": false}, "axis": null}, "x2": {"datum": 11200},
  "y": {"datum": 15795, "type": "quantitative", "scale": {"type": "log", "domain": [1, 10000], "nice": false}, "axis": null}}},
{"data": {"values": [{}]}, "mark": {"type": "rule", "color": "#000", "strokeWidth": 2.5, "clip": false},
 "encoding": {"x": {"datum": -1160, "type": "quantitative", "scale": {"domain": [0, 10000], "nice": false, "zero": false}, "axis": null},
  "y": {"datum": 15795, "type": "quantitative", "scale": {"type": "log", "domain": [1, 10000], "nice": false}, "axis": null}, "y2": {"datum": 0.3806}}},
{"data": {"values": [{}]}, "mark": {"type": "rule", "color": "#aaa", "strokeWidth": 1.5, "clip": false},
 "encoding": {"x": {"datum": -1160, "type": "quantitative", "scale": {"domain": [0, 10000], "nice": false, "zero": false}, "axis": null}, "x2": {"datum": 11200},
  "y": {"datum": 0.3806, "type": "quantitative", "scale": {"type": "log", "domain": [1, 10000], "nice": false}, "axis": null}}}
]
}
]
}
